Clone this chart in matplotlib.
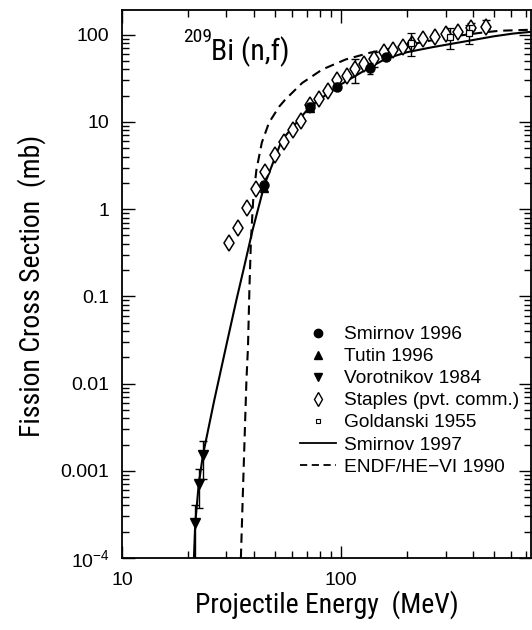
import matplotlib
matplotlib.use('Agg')
import matplotlib.pyplot as plt
from matplotlib import font_manager
from matplotlib.font_manager import FontProperties
from matplotlib.lines import Line2D
from matplotlib.ticker import LogLocator, FixedLocator, FixedFormatter, NullFormatter

names = {f.name for f in font_manager.fontManager.ttflist}
REG = 'Liberation Sans' if 'Liberation Sans' in names else 'DejaVu Sans'


def find_narrow():
    prefs = ['liberationsansnarrow-regular', 'robotocondensed-regular',
             'notosans-condensed.', 'notosans-condensedregular', 'opensans-condensed',
             'dejavusanscondensed.']
    files = [f for f in font_manager.fontManager.ttflist]
    for p in prefs:
        for f in files:
            if p in f.fname.lower().replace('_', '').replace(' ', ''):
                return f.fname
    for f in files:
        fn = f.fname.lower()
        if ('narrow' in fn or 'condensed' in fn) and 'bold' not in fn and \
                'italic' not in fn and 'oblique' not in fn and 'semi' not in fn \
                and 'extra' not in fn and 'light' not in fn and 'medium' not in fn \
                and 'black' not in fn and 'thin' not in fn and 'mono' not in fn \
                and 'serif' not in fn:
            return f.fname
    return None


NARROW_FILE = find_narrow()


def nprop(size):
    if NARROW_FILE:
        return FontProperties(fname=NARROW_FILE, size=size)
    return FontProperties(family=REG, size=size * 0.83)


plt.rcParams['font.family'] = [REG, 'DejaVu Sans']
plt.rcParams['mathtext.fontset'] = 'custom'
plt.rcParams['mathtext.rm'] = REG
plt.rcParams['mathtext.it'] = REG + ':italic'
plt.rcParams['mathtext.bf'] = REG + ':bold'

# ---------------- data ----------------
smirnov96_E = [44.7, 72, 96, 135, 160]
smirnov96_sig = [1.9, 14.9, 25.4, 41.8, 55]
smirnov96_err = [0.2, 1.6, 2.2, 6.0, 4.0]

tutin96_E = [44.5, 72]
tutin96_sig = [1.75, 14.3]

voro84_E = [21.6, 22.4, 23.4]
voro84_sig = [2.5e-4, 7.1e-4, 1.5e-3]
voro84_err = [1.6e-4, 3.4e-4, 7.0e-4]

staples_E = [30.8, 33.9, 37.3, 41.1, 44.8, 49.8, 54.7, 60.2, 65.6, 72.1, 79.4,
             87.5, 95.5, 106, 116, 128, 141, 157, 172, 191, 212, 238, 268, 301,
             341, 392, 458]
staples_sig = [0.41, 0.61, 1.04, 1.71, 2.69, 4.2, 5.9, 8.1, 10.3, 15.5, 18.5,
               22.8, 30, 34, 40, 46, 53, 63, 67, 72, 79, 89, 95, 102, 108, 118, 122]
staples_err_lo = [0, 0, 0, 0, 0, 0, 0, 0, 0, 0, 0, 0, 0, 0, 12, 0, 10, 0, 0, 0,
                  0, 0, 0, 0, 0, 5, 5]
staples_err_hi = [0, 0, 0, 0, 0, 0, 0, 0, 0, 0, 0, 0, 0, 0, 12, 0, 10, 0, 0, 0,
                  0, 0, 0, 0, 0, 20, 25]

goldanski_E = [208, 314, 384]
goldanski_sig = [81, 93, 104]
goldanski_err = [24, 25, 25]

smirnov97_E = [21.3, 21.6, 22.4, 23.4, 26.4, 30.0, 33.3, 36.0, 39.5, 44.7,
               53.7, 72, 96, 135, 160, 200, 262, 371, 500, 610, 737]
smirnov97_sig = [1e-4, 2.5e-4, 7.0e-4, 1.5e-3, 6.5e-3, 0.028, 0.091, 0.21,
                 0.58, 1.9, 6.2, 14.9, 25.4, 42, 53, 63, 72, 84, 96, 103, 108]

endf_E = [34.9, 35.9, 37.0, 37.6, 38.2, 38.8, 39.8, 41.1, 43.5, 46.9, 52.1, 55.6,
          66.5, 82.2, 105, 135, 185, 271, 350, 445, 530, 737]
endf_sig = [1e-4, 1e-3, 0.011, 0.026, 0.13, 0.445, 1.39, 2.83, 5.8, 9.8, 14.9, 18,
            28, 40, 52, 62, 73, 88, 98, 106, 111, 114]

xticks_major = [10, 100]
xtick_labels = ['10', '100']
yticks_major = [1e-4, 1e-3, 1e-2, 1e-1, 1, 10, 100]
ytick_labels = [r'$\mathregular{10^{-4}}$', '0.001', '0.01', '0.1', '1', '10', '100']

legend_labels = ['Smirnov 1996', 'Tutin 1996', 'Vorotnikov 1984',
                 'Staples (pvt. comm.)', 'Goldanski 1955', 'Smirnov 1997',
                 'ENDF/HE\u2212VI 1990']

# ---------------- figure ----------------
W, H = 532, 630
fig = plt.figure(figsize=(W / 100, H / 100), dpi=100)
ax_l, ax_r, ax_t, ax_b = 122, 531, 10, 558
ax = fig.add_axes([ax_l / W, 1 - ax_b / H, (ax_r - ax_l) / W, (ax_b - ax_t) / H])
ax.set_xscale('log')
ax.set_yscale('log')
ax.set_xlim(10, 737)
ax.set_ylim(1e-4, 192)

k = 'black'
ax.plot(smirnov97_E, smirnov97_sig, '-', color=k, lw=1.5, zorder=2)
ax.plot(endf_E, endf_sig, color=k, lw=1.5, dashes=(4.5, 2.8), zorder=2)

# Staples diamonds
ax.plot(staples_E, staples_sig, linestyle='none', marker='d', ms=8.5, mfc='white',
        mec=k, mew=1.1, zorder=3)
idx = [i for i in range(len(staples_E)) if staples_err_hi[i] > 0]
ax.errorbar([staples_E[i] for i in idx], [staples_sig[i] for i in idx],
            yerr=[[staples_err_lo[i] for i in idx], [staples_err_hi[i] for i in idx]],
            fmt='none', ecolor=k, elinewidth=1.0, capsize=3, capthick=1.0, zorder=2)

# Goldanski squares
ax.errorbar(goldanski_E, goldanski_sig, yerr=goldanski_err, fmt='s', ms=4, mfc='white',
            mec=k, mew=0.9, ecolor=k, elinewidth=1.0, capsize=3, capthick=1.0, zorder=3)

# Smirnov 1996 filled circles
ax.errorbar(smirnov96_E, smirnov96_sig, yerr=smirnov96_err, fmt='o', ms=6.5, mfc=k,
            mec=k, ecolor=k, elinewidth=1.0, capsize=2.5, capthick=1.0, zorder=4)
# Tutin 1996
ax.plot(tutin96_E, tutin96_sig, linestyle='none', marker='^', ms=6, color=k, zorder=4)
# Vorotnikov 1984
ax.errorbar(voro84_E, voro84_sig, yerr=voro84_err, fmt='v', ms=6.5, color=k,
            ecolor=k, elinewidth=1.0, capsize=3, capthick=1.0, zorder=4)

# ticks
ax.xaxis.set_major_locator(FixedLocator(xticks_major))
ax.xaxis.set_major_formatter(FixedFormatter(xtick_labels))
ax.xaxis.set_minor_locator(LogLocator(base=10, subs=range(2, 10), numticks=20))
ax.xaxis.set_minor_formatter(NullFormatter())
ax.yaxis.set_major_locator(FixedLocator(yticks_major))
ax.yaxis.set_major_formatter(FixedFormatter(ytick_labels))
ax.yaxis.set_minor_locator(LogLocator(base=10, subs=range(2, 10), numticks=20))
ax.yaxis.set_minor_formatter(NullFormatter())
ax.tick_params(which='both', direction='in', top=True, right=True, width=1.0,
               colors=k)
ax.tick_params(which='major', length=9, labelsize=14)
ax.tick_params(axis='y', which='major', pad=9)
ax.tick_params(axis='x', which='major', pad=10)
ax.tick_params(which='minor', length=5)
for s in ax.spines.values():
    s.set_linewidth(1.3)

# labels
fig.text((ax_l + ax_r) / 2 / W, 1 - 613 / H, 'Projectile Energy  (MeV)',
         fontproperties=nprop(20), ha='center', va='baseline')
fig.text(32 / W, 1 - 286 / H, 'Fission Cross Section  (mb)', fontproperties=nprop(20),
         rotation=90, ha='center', va='center')
fig.text(183 / W, 1 - 42 / H, '209', fontproperties=nprop(14), ha='left',
         va='baseline')
fig.text(211 / W, 1 - 60 / H, 'Bi (n,f)', fontproperties=nprop(21.5), ha='left',
         va='baseline')

# legend
handles = [
    Line2D([], [], linestyle='none', marker='o', ms=6, color=k),
    Line2D([], [], linestyle='none', marker='^', ms=6, color=k),
    Line2D([], [], linestyle='none', marker='v', ms=6, color=k),
    Line2D([], [], linestyle='none', marker='d', ms=7, mfc='white', mec=k, mew=1.0),
    Line2D([], [], linestyle='none', marker='s', ms=3.5, mfc='white', mec=k, mew=0.8),
    Line2D([], [], linestyle='-', color=k, lw=1.3),
    Line2D([], [], color=k, lw=1.3, dashes=(4, 2.5)),
]
leg = ax.legend(handles, legend_labels, loc='upper left',
                bbox_to_anchor=(300 / W, 1 - 326 / H), bbox_transform=fig.transFigure,
                frameon=False, borderpad=0, borderaxespad=0, handlelength=1.9,
                handletextpad=0.4, labelspacing=0.24, fontsize=13.8)

fig.savefig('out.png', dpi=100)
